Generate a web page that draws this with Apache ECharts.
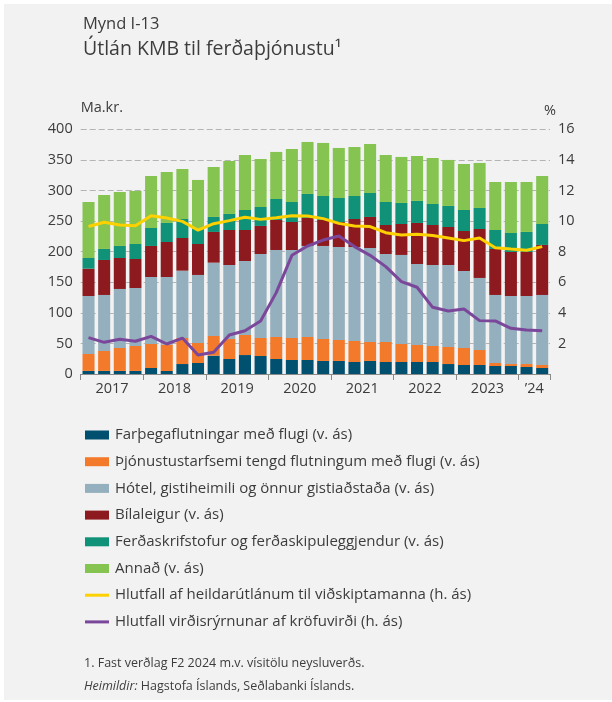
<!DOCTYPE html>
<html>
<head>
<meta charset="utf-8">
<script src="https://cdn.jsdelivr.net/npm/echarts@6/dist/echarts.min.js"></script>
<style>
  html, body { margin: 0; padding: 0; background: #ffffff; }
  #panel { position: absolute; left: 4px; top: 4px; width: 608px; height: 696px; background: #f2f2f2; }
  #chart { position: absolute; left: 0; top: 0; width: 612px; height: 702px; }
</style>
</head>
<body>
<div id="panel"></div>
<div id="chart"></div>
<script>
var chart = echarts.init(document.getElementById('chart'));

// ársfjórðungar
var quarters = [
    '2017F1', '2017F2', '2017F3', '2017F4',
    '2018F1', '2018F2', '2018F3', '2018F4',
    '2019F1', '2019F2', '2019F3', '2019F4',
    '2020F1', '2020F2', '2020F3', '2020F4',
    '2021F1', '2021F2', '2021F3', '2021F4',
    '2022F1', '2022F2', '2022F3', '2022F4',
    '2023F1', '2023F2', '2023F3', '2023F4',
    '2024F1', '2024F2'
];
var years = ['2017', '2018', '2019', '2020', '2021', '2022', '2023', '2024'];
var yearLabels = ['2017', '2018', '2019', '2020', '2021', '2022', '2023', '\u201924'];

// Ma.kr. (v. ás)
var flug = [5, 5, 5, 5, 9.8, 4.9, 16.3, 18, 30, 24.5, 31, 29.4, 24.5, 22.9, 22.9, 21.3,
    21.3, 19.6, 21.3, 19.6, 19.6, 19.6, 19.6, 16.3, 14.7, 14.7, 13.1, 13.1, 11.4, 9.8];
var thjonusta = [27.7, 32.6, 37.5, 40.8, 39.2, 43.1, 42.6, 32.7, 32.1, 32.7, 32.8, 29.5, 36, 36, 37.6, 35.9,
    34.3, 34.3, 31, 32.7, 29.4, 27.8, 26.2, 27.8, 27.8, 24.5, 4.9, 3.2, 4.9, 4.9];
var hotel = [94.8, 91.6, 96.5, 94.8, 109.6, 110.6, 110, 111.2, 119.9, 121, 120.9, 137.3, 142.2, 143.8, 148.8, 152.1,
    152, 153.7, 153.7, 143.9, 145.6, 132.4, 132.4, 134.1, 125.9, 117.8, 111.2, 111.2, 111.2, 114.5];
var bilaleigur = [44.7, 57.2, 50.6, 47.4, 50.7, 57.2, 53.4, 50.6, 50.2, 57.2, 50.7, 45.8, 49.1, 45.8, 45.7, 42.5,
    40.9, 45.8, 50.7, 47.4, 50.6, 67.1, 65.4, 62.1, 65.4, 80, 75.2, 72, 72, 81.8];
var ferdaskrifstofur = [17.4, 18, 19.7, 24.5, 29.4, 31.1, 31.1, 24.5, 24.5, 26.2, 32.7, 31, 34.3, 32.7, 39.3, 39.2,
    39.2, 37.6, 39.2, 37.6, 34.4, 36, 34.3, 34.4, 34.3, 34.4, 31, 31, 32.7, 34.2];
var annad = [91.6, 88.2, 88.2, 86.7, 85, 83.3, 81.7, 80.2, 81.7, 86.6, 89.9, 78.5, 76.9, 86.6, 85, 86.7,
    81.8, 80.1, 80.1, 76.8, 75.2, 73.5, 75.2, 75.2, 75.2, 73.6, 78.5, 83.4, 81.7, 78.5];

// % (h. ás)
var hlutfallUtlana = [9.64, 9.92, 9.74, 9.7, 10.35, 10.2, 9.98, 9.4, 9.83, 10.03, 10.25, 10.11, 10.22, 10.35, 10.33, 10.16,
    9.85, 9.68, 9.64, 9.24, 9.09, 9.13, 9.05, 8.89, 8.72, 8.89, 8.26, 8.17, 8.09, 8.33];
var hlutfallVirdisryrnunar = [2.38, 2.07, 2.27, 2.14, 2.46, 1.96, 2.35, 1.24, 1.42, 2.55, 2.83, 3.47, 5.32, 7.76, 8.37, 8.76,
    9.02, 8.33, 7.76, 7.02, 6.04, 5.67, 4.36, 4.12, 4.25, 3.49, 3.47, 2.99, 2.88, 2.83];

// ár: skil og miðjur á x-ás
var yearTicks = [0];
var yearCenters = [];
years.forEach(function (y) {
    var first = -1, last = -1;
    quarters.forEach(function (q, i) {
        if (q.indexOf(y) === 0) {
            if (first < 0) first = i;
            last = i;
        }
    });
    yearTicks.push(last + 1);
    yearCenters.push((first + last + 1) / 2);
});

var font = '"Open Sans", "Noto Sans", sans-serif';
var txt = '#3c3c3c';
var lineIcon = 'path://M0,0h24v3h-24z';

function barSeries(name, data, color) {
    return {
        name: name,
        type: 'bar',
        stack: 'makr',
        xAxisIndex: 0,
        yAxisIndex: 0,
        barCategoryGap: '23%',
        itemStyle: { color: color },
        data: data
    };
}

function lineSeries(name, data, color) {
    return {
        name: name,
        type: 'line',
        xAxisIndex: 0,
        yAxisIndex: 1,
        symbol: 'none',
        z: 5,
        lineStyle: { color: color, width: 3 },
        itemStyle: { color: color },
        data: data
    };
}

var option = {
    backgroundColor: 'transparent',
    animation: false,
    textStyle: { fontFamily: font, color: txt },
    title: [{
        text: 'Mynd I-13',
        left: 78,
        top: 11,
        textStyle: { fontFamily: font, fontSize: 16.5, fontWeight: 'normal', color: txt }
    }, {
        text: 'Útlán KMB til ferðaþjónustu¹',
        left: 78,
        top: 34,
        textStyle: { fontFamily: font, fontSize: 19.5, fontWeight: 'normal', color: txt }
    }, {
        text: '1. Fast verðlag F2 2024 m.v. vísitölu neysluverðs.',
        left: 79,
        top: 652,
        textStyle: { fontFamily: font, fontSize: 12.5, fontWeight: 'normal', color: txt }
    }, {
        text: '{i|Heimildir:} Hagstofa Íslands, Seðlabanki Íslands.',
        left: 79,
        top: 675,
        textStyle: {
            fontFamily: font, fontSize: 12.5, fontWeight: 'normal', color: txt,
            rich: { i: { fontFamily: font, fontSize: 12.5, fontStyle: 'italic', color: txt } }
        }
    }],
    legend: {
        orient: 'vertical',
        left: 80,
        top: 421,
        itemWidth: 24,
        itemHeight: 9,
        itemGap: 8.7,
        selectedMode: false,
        textStyle: { fontFamily: font, fontSize: 15, color: txt, lineHeight: 18, padding: [0, 0, 0, 1] },
        data: [
            { name: 'Farþegaflutningar með flugi (v. ás)', icon: 'rect' },
            { name: 'Þjónustustarfsemi tengd flutningum með flugi (v. ás)', icon: 'rect' },
            { name: 'Hótel, gistiheimili og önnur gistiaðstaða (v. ás)', icon: 'rect' },
            { name: 'Bílaleigur (v. ás)', icon: 'rect' },
            { name: 'Ferðaskrifstofur og ferðaskipuleggjendur (v. ás)', icon: 'rect' },
            { name: 'Annað (v. ás)', icon: 'rect' },
            { name: 'Hlutfall af heildarútlánum til viðskiptamanna (h. ás)', icon: lineIcon },
            { name: 'Hlutfall virðisrýrnunar af kröfuvirði (h. ás)', icon: lineIcon }
        ]
    },
    grid: {
        left: 80.7,
        right: 62,
        top: 129.3,
        bottom: 328
    },
    xAxis: [{
        type: 'category',
        data: quarters,
        boundaryGap: true,
        axisLine: { show: false },
        axisTick: { show: false },
        axisLabel: { show: false },
        splitLine: { show: false }
    }, {
        type: 'value',
        position: 'bottom',
        min: 0,
        max: quarters.length,
        splitLine: { show: false },
        axisLine: { show: true, lineStyle: { color: '#8a8a8a', width: 1 } },
        axisTick: {
            show: true,
            length: 6,
            lineStyle: { color: '#8a8a8a', width: 1 },
            customValues: yearTicks
        },
        axisLabel: {
            show: true,
            margin: 7,
            fontFamily: font,
            fontSize: 14.5,
            color: txt,
            customValues: yearCenters,
            formatter: function (v) {
                var k = yearCenters.indexOf(v);
                return k >= 0 ? yearLabels[k] : '';
            }
        }
    }],
    yAxis: [{
        type: 'value',
        min: 0,
        max: 400,
        interval: 50,
        name: 'Ma.kr.',
        nameLocation: 'end',
        nameGap: 14,
        nameTextStyle: { fontFamily: font, fontSize: 14.5, color: txt, align: 'left' },
        axisLine: { show: false },
        axisTick: { show: false },
        axisLabel: { fontFamily: font, fontSize: 14.5, color: txt, margin: 8 },
        splitLine: { lineStyle: { color: '#b4b4b4', type: [6, 3], width: 1 } }
    }, {
        type: 'value',
        min: 0,
        max: 16,
        interval: 2,
        name: '%',
        nameLocation: 'end',
        nameGap: 11,
        nameTextStyle: { fontFamily: font, fontSize: 14.5, color: txt, align: 'center' },
        axisLine: { show: false },
        axisTick: { show: false },
        axisLabel: {
            fontFamily: font, fontSize: 14.5, color: txt, margin: 8,
            formatter: function (v) { return v === 0 ? '' : v; }
        },
        splitLine: { show: false }
    }],
    series: [
        barSeries('Farþegaflutningar með flugi (v. ás)', flug, '#02506f'),
        barSeries('Þjónustustarfsemi tengd flutningum með flugi (v. ás)', thjonusta, '#f47a2b'),
        barSeries('Hótel, gistiheimili og önnur gistiaðstaða (v. ás)', hotel, '#94afbd'),
        barSeries('Bílaleigur (v. ás)', bilaleigur, '#8c1a1f'),
        barSeries('Ferðaskrifstofur og ferðaskipuleggjendur (v. ás)', ferdaskrifstofur, '#0f9277'),
        barSeries('Annað (v. ás)', annad, '#86c451'),
        lineSeries('Hlutfall af heildarútlánum til viðskiptamanna (h. ás)', hlutfallUtlana, '#fdd000'),
        lineSeries('Hlutfall virðisrýrnunar af kröfuvirði (h. ás)', hlutfallVirdisryrnunar, '#7b479b')
    ]
};

chart.setOption(option);
</script>
</body>
</html>
